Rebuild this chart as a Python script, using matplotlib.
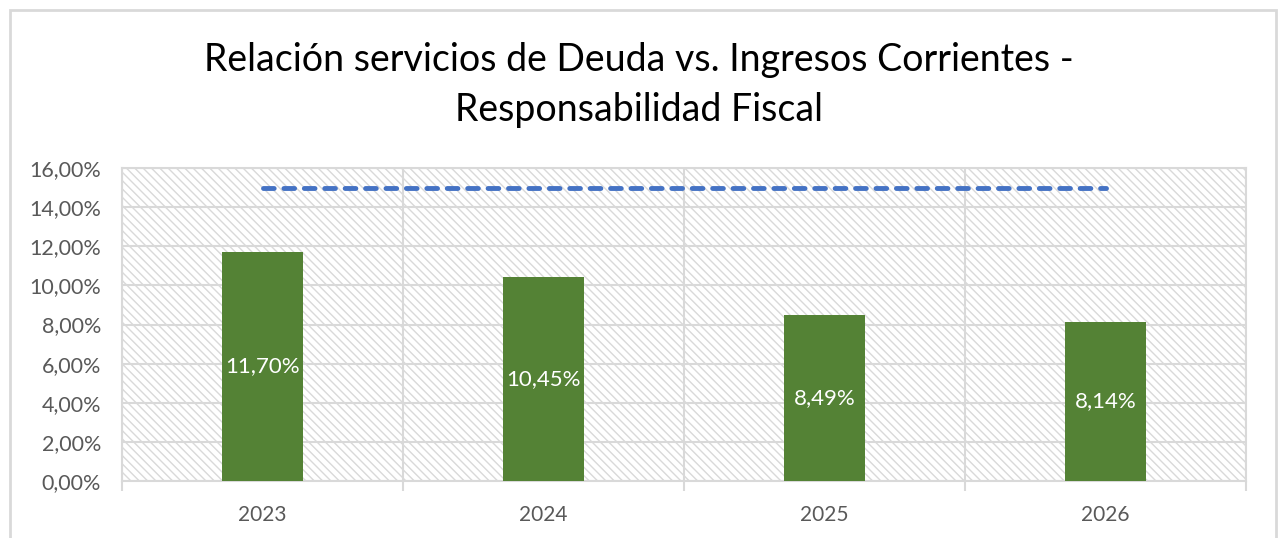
import numpy as np
import matplotlib.pyplot as plt
from matplotlib.patches import Rectangle
from matplotlib.ticker import FuncFormatter

# --- data ---
years = ["2023", "2024", "2025", "2026"]
ratio = [11.70, 10.45, 8.49, 8.14]       # servicio deuda / ingresos corrientes (%)
limite = [15.0, 15.0, 15.0, 15.0]        # tope responsabilidad fiscal (%)
y_ticks = [0, 2, 4, 6, 8, 10, 12, 14, 16]

BAR_GREEN = "#548235"
LINE_BLUE = "#4472C4"
GRID = "#D9D9D9"
TXT = "#595959"

plt.rcParams['font.family'] = ['Lato', 'DejaVu Sans']
plt.rcParams['hatch.color'] = "#D0D0D0"
plt.rcParams['hatch.linewidth'] = 1.0

fig = plt.figure(figsize=(12.78, 5.38), dpi=100)
ax = fig.add_axes([122 / 1278, 1 - 481 / 538, 1124 / 1278, (481 - 168) / 538])

# outer chart border
fig.patches.append(Rectangle((10 / 1278, -0.1), 1266 / 1278, 1.1 - 10 / 538,
                             transform=fig.transFigure, fill=False,
                             edgecolor=GRID, linewidth=2))

x = np.arange(len(years))

# hatched plot area
ax.add_patch(Rectangle((-0.5, 0), len(years), 16, facecolor="white",
                       edgecolor=GRID, hatch="\\\\\\\\", linewidth=0, zorder=0))

bars = ax.bar(x, ratio, width=0.29, color=BAR_GREEN, zorder=3)
ax.plot(x, limite, color=LINE_BLUE, linewidth=3.5, dashes=(2.2, 2.0),
        dash_capstyle="round", zorder=4)

for xi, v in zip(x, ratio):
    ax.text(xi, v / 2, f"{v:.2f}%".replace(".", ","), ha="center", va="center",
            color="white", fontsize=16, zorder=5)

ax.set_xlim(-0.5, len(years) - 0.5)
ax.set_ylim(0, 16)
ax.set_yticks(y_ticks)
ax.yaxis.set_major_formatter(FuncFormatter(lambda v, p: f"{v:.2f}%".replace(".", ",")))
ax.set_xticks(x)
ax.set_xticklabels(years)
ax.set_xticks(np.arange(-0.5, len(years)), minor=True)
ax.tick_params(axis="x", which="major", length=0, pad=17, labelsize=15, labelcolor=TXT)
ax.tick_params(axis="x", which="minor", length=7, width=1.5, color=GRID)
ax.tick_params(axis="y", length=0, pad=15, labelsize=15.5, labelcolor=TXT)

ax.grid(axis="y", color=GRID, linewidth=1.5, zorder=1)
ax.grid(axis="x", which="minor", color=GRID, linewidth=1.5, zorder=1)
ax.set_axisbelow(True)
for s in ax.spines.values():
    s.set_color(GRID)
    s.set_linewidth(1.5)

fig.text(0.5, 1 - 60 / 538, "Relación servicios de Deuda vs. Ingresos Corrientes -",
         ha="center", va="center", fontsize=27, color="#000000")
fig.text(0.5, 1 - 110 / 538, "Responsabilidad Fiscal",
         ha="center", va="center", fontsize=27, color="#000000")

fig.savefig("out.png", dpi=100)
